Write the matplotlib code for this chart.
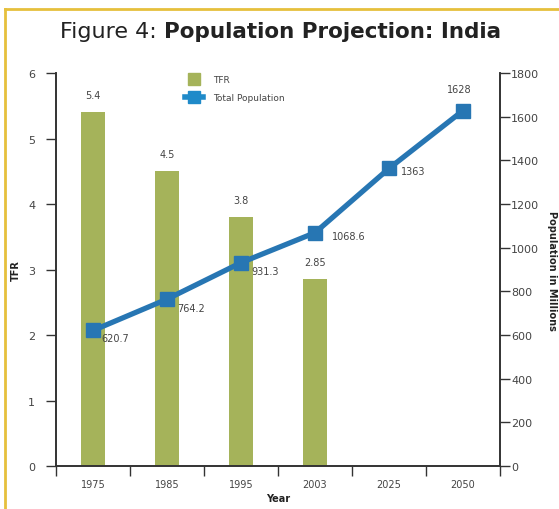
import matplotlib.pyplot as plt
from matplotlib.lines import Line2D

years = ["1975", "1985", "1995", "2003", "2025", "2050"]
tfr = [5.4, 4.5, 3.8, 2.85]
population = [620.7, 764.2, 931.3, 1068.6, 1363, 1628]

# label offsets (pixels) for the population values
pop_offsets = [(8, -8), (10, -9), (10, -8), (17, -3), (12, -3), (-4, 22)]
pop_ha = ["left", "left", "left", "left", "left", "center"]

bar_color = "#a5b35a"
line_color = "#2776b3"
text_color = "#444444"
spine_color = "#333333"
border_color = "#e6c03c"

plt.rcParams["font.family"] = ["DejaVu Sans"]

fig = plt.figure(figsize=(5.59, 5.10), dpi=100)
ax = fig.add_axes([0.1002, 0.0843, 0.7943, 0.7706])
ax2 = ax.twinx()

x = list(range(len(years)))
ax.bar(x[:len(tfr)], tfr, width=0.33, color=bar_color, zorder=2)
for xi, v in zip(x, tfr):
    ax.annotate(f"{v:g}", (xi, v), xytext=(0, 12), textcoords="offset pixels",
                ha="center", va="bottom", fontsize=7, color=text_color)

ax2.plot(x, population, color=line_color, linewidth=3.8, marker="s",
         markersize=9.5, zorder=3)
for xi, v, off, ha in zip(x, population, pop_offsets, pop_ha):
    ax2.annotate(f"{v:g}", (xi, v), xytext=off, textcoords="offset pixels",
                 ha=ha, va="center", fontsize=7, color=text_color)

ax.set_xlim(-0.5, len(years) - 0.5)
ax.set_ylim(0, 6)
ax2.set_ylim(0, 1800)

# tick marks at category boundaries, labels at centers
ax.set_xticks([i - 0.5 for i in range(len(years) + 1)])
ax.set_xticklabels([])
ax.set_xticks(x, minor=True)
ax.set_xticklabels(years, minor=True, fontsize=7, color=text_color)
ax.tick_params(axis="x", which="major", direction="out", length=7, width=1,
               color=spine_color)
ax.tick_params(axis="x", which="minor", length=0, pad=9)

ax.set_yticks(range(0, 7))
ax.tick_params(axis="y", direction="out", length=7, width=1, color=spine_color,
               labelsize=8, labelcolor=text_color, pad=8)
ax2.set_yticks(range(0, 1801, 200))
ax2.tick_params(axis="y", direction="out", length=7, width=1, color=spine_color,
                labelsize=8, labelcolor=text_color, pad=1)

for a in (ax, ax2):
    a.spines["top"].set_visible(False)
    for s in ("left", "right", "bottom"):
        a.spines[s].set_color(spine_color)
        a.spines[s].set_linewidth(1.2)

ax.set_xlabel("Year", fontsize=7, fontweight="bold", color="#222222", labelpad=3)
ax.set_ylabel("TFR", fontsize=7, fontweight="bold", color="#222222", labelpad=5)
ax2.set_ylabel("Population in Millions", fontsize=7, fontweight="bold",
               color="#222222", rotation=-90, labelpad=13)

handles = [
    Line2D([], [], linestyle="none", marker="s", markersize=8, color=bar_color),
    Line2D([], [], color="#1f8ac9", linewidth=4, marker="s", markersize=8),
]
fig.legend(handles, ["TFR", "Total Population"], loc="upper left",
           bbox_to_anchor=(177 / 559, 1 - 68 / 510), frameon=False, fontsize=6.5,
           handlelength=2.0, labelcolor=text_color, handletextpad=1.1,
           labelspacing=1.0)

# title: plain prefix followed by bold text
t1 = fig.text(60 / 559, 1 - 32 / 510, "Figure 4: ", fontsize=16, color="#222222",
              va="center", ha="left")
ax.annotate("Population Projection: India", xy=(1, 0.5), xycoords=t1,
            va="center", ha="left", fontsize=15.5, fontweight="bold",
            color="#222222", annotation_clip=False)

# frame lines along top and left edges
fig.add_artist(Line2D([5 / 559, 1], [1 - 10 / 510, 1 - 10 / 510],
                      transform=fig.transFigure, color=border_color, linewidth=2))
fig.add_artist(Line2D([5 / 559, 5 / 559], [0, 1 - 10 / 510],
                      transform=fig.transFigure, color=border_color, linewidth=2))

fig.savefig("out.png", dpi=100)
